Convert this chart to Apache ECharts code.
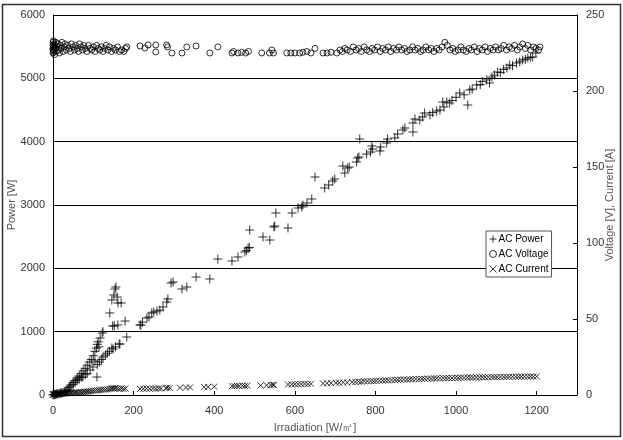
<!DOCTYPE html>
<html>
<head>
<meta charset="utf-8">
<script src="https://cdn.jsdelivr.net/npm/echarts@6/dist/echarts.min.js"></script>
<style>
  html, body { margin: 0; padding: 0; background: #fff; }
  #chart { width: 623px; height: 440px; }
</style>
</head>
<body>
<div id="chart"></div>
<script>
// [irradiation W/m2, power W]
const acPower = [
  [0, 0], [2, 5], [4, 10], [6, 8], [8, 15], [10, 20], [12, 18], [15, 25], [18, 30], [20, 35],
  [22, 28], [25, 40], [28, 45], [30, 50], [33, 60], [35, 70], [38, 90],
  // steep branch
  [40, 120], [45, 160], [50, 200], [55, 230], [60, 270], [65, 300], [70, 340], [75, 380],
  [80, 420], [85, 470], [90, 520], [95, 560], [100, 620], [104, 690], [108, 740], [110, 800],
  [112, 840], [114, 760], [117, 900], [122, 979], [124, 1000], [141, 1295], [146, 1500],
  [148, 1090], [151, 1579], [152, 1090], [154, 1674], [156, 1705], [159, 1547], [161, 1453],
  [161, 1105], [169, 1453], [179, 1168],
  // main branch
  [42, 140], [50, 170], [55, 200], [60, 237], [65, 250], [70, 280], [74, 284], [80, 320],
  [85, 340], [92, 395], [99, 442], [104, 537], [109, 284], [110, 480], [115, 520], [120, 560],
  [124, 600], [130, 630], [135, 660], [140, 690], [146, 742], [149, 726], [155, 760],
  [164, 805], [166, 805], [183, 916],
  [216, 1105], [218, 1105], [222, 1150], [233, 1216], [238, 1230], [245, 1295], [250, 1310],
  [258, 1326], [265, 1340], [273, 1390], [282, 1468], [285, 1516], [293, 1768], [298, 1784],
  [320, 1674], [332, 1705], [355, 1863], [389, 1832], [409, 2147], [444, 2116], [459, 2179],
  [476, 2258], [480, 2280], [484, 2321], [487, 2330], [488, 2605], [521, 2495], [538, 2447],
  [548, 2653], [550, 2668], [553, 2874], [583, 2637], [593, 2874], [608, 2953], [617, 2969],
  [620, 3000], [630, 3032], [642, 3095], [650, 3442], [674, 3269], [684, 3316], [694, 3379],
  [699, 3411], [719, 3616], [724, 3505], [731, 3584], [735, 3600], [753, 3679], [756, 3742],
  [759, 3758], [761, 4042], [778, 3805], [788, 3837], [791, 3932], [793, 3884], [811, 3853],
  [813, 3916], [828, 3979], [830, 4042], [848, 4058], [855, 4121], [868, 4184], [873, 4216],
  [893, 4153], [893, 4295], [898, 4358], [910, 4342], [917, 4389], [922, 4453], [935, 4421],
  [942, 4460], [952, 4484], [960, 4500], [967, 4626], [970, 4547], [977, 4626], [984, 4611],
  [990, 4650], [1000, 4700], [1009, 4768], [1020, 4740], [1029, 4579], [1034, 4816],
  [1040, 4830], [1051, 4895], [1060, 4900], [1065, 4950], [1076, 4974], [1083, 4926],
  [1089, 5021], [1095, 5050], [1103, 5100], [1110, 5090], [1118, 5140], [1126, 5163],
  [1133, 5211], [1140, 5200], [1150, 5242], [1158, 5260], [1165, 5289], [1172, 5300],
  [1178, 5321], [1185, 5330], [1190, 5337], [1198, 5400]
];

// [irradiation W/m2, voltage V]
const acVoltage = [
  [0, 227], [0, 230], [0, 232], [0, 225], [0, 228], [1, 233], [1, 226], [2, 229], [2, 231],
  [3, 227], [4, 224], [5, 230], [6, 228], [7, 232], [8, 226], [10, 229], [12, 231], [14, 227],
  [16, 225], [18, 230], [20, 228], [22, 232], [25, 226], [28, 229], [30, 231], [33, 227],
  [36, 230], [40, 228], [43, 226], [46, 231], [50, 229], [53, 227], [56, 230], [60, 228],
  [63, 226], [66, 231], [70, 229], [73, 227], [76, 230], [80, 228], [84, 226], [88, 230],
  [92, 228], [96, 227], [100, 229], [104, 226], [108, 230], [112, 228], [116, 227], [120, 229],
  [124, 226], [128, 228], [132, 230], [136, 227], [140, 229], [145, 226], [150, 228],
  [155, 227], [160, 229], [165, 226], [170, 227], [176, 226], [180, 228], [183, 229],
  [216, 229.6], [228, 228.3], [236, 230.3], [255, 230.3], [255, 225.7], [282, 230.3],
  [284, 229], [295, 225], [320, 225], [332, 229], [355, 229.6], [389, 225], [409, 229],
  [444, 225], [448, 226], [459, 225], [468, 225.5], [478, 225], [485, 226], [518, 225],
  [537, 225], [543, 227], [547, 225], [580, 225], [590, 225], [600, 225], [612, 225],
  [620, 225.5], [630, 226], [640, 225], [650, 228], [670, 225], [680, 225], [690, 225.5],
  [704, 225],
  [712, 227], [718, 226], [724, 228], [730, 227], [738, 226], [745, 229], [752, 227],
  [758, 228], [765, 226], [772, 229], [778, 227], [785, 226], [792, 228], [798, 227],
  [805, 229], [812, 226], [818, 228], [825, 227], [832, 229], [838, 226], [845, 228],
  [852, 227], [858, 229], [865, 227], [872, 228], [878, 226], [885, 227], [892, 229],
  [898, 227], [905, 228], [912, 226], [918, 227], [925, 229], [932, 227], [938, 228],
  [945, 226], [952, 228], [958, 227], [965, 229], [972, 232], [978, 230], [985, 227],
  [992, 228], [998, 226], [1005, 227], [1012, 229], [1018, 227], [1025, 226], [1032, 228],
  [1038, 227], [1045, 229], [1052, 226], [1058, 228], [1065, 227], [1072, 229], [1078, 226],
  [1085, 228], [1092, 227], [1098, 229], [1105, 227], [1112, 228], [1118, 230], [1125, 227],
  [1132, 229], [1138, 228], [1145, 230], [1152, 227], [1158, 229], [1165, 231], [1172, 228],
  [1178, 230], [1185, 227], [1192, 229], [1198, 228], [1205, 227], [1208, 229]
];

// [irradiation W/m2, current A]
const acCurrent = [
  [0, 0.2], [1, 0.5], [2, 0.3], [3, 0.6], [5, 0.4], [7, 0.8], [9, 0.5], [11, 0.9], [13, 0.7],
  [15, 1.0], [18, 0.8], [20, 1.1], [23, 0.9], [26, 1.2], [29, 1.0], [32, 1.3], [35, 1.1],
  [38, 1.4], [42, 1.2], [45, 1.5], [48, 1.3], [52, 1.6], [55, 1.5], [58, 1.8], [62, 1.6],
  [66, 1.9], [70, 1.8], [74, 2.0], [78, 2.1], [82, 2.2], [86, 2.3], [90, 2.5], [95, 2.6],
  [100, 2.8], [105, 2.9], [110, 3.1], [115, 3.2], [120, 3.4], [125, 3.5], [130, 3.6],
  [135, 3.8], [140, 4.0], [145, 4.2], [148, 4.5], [152, 4.3], [155, 4.6], [160, 4.4],
  [165, 4.1], [170, 4.3], [175, 4.0], [180, 4.2],
  [216, 4.0], [224, 4.1], [232, 4.2], [240, 4.1], [248, 4.3], [255, 4.2], [262, 4.4],
  [268, 4.3], [280, 4.6], [284, 4.8], [290, 4.7], [315, 4.8], [330, 4.9], [340, 5.0],
  [375, 5.2], [385, 5.3], [400, 5.5], [444, 5.8], [450, 5.9], [456, 6.0], [462, 5.9],
  [470, 6.1], [476, 6.0], [482, 6.2], [515, 6.3], [530, 6.4], [540, 6.5], [545, 6.7],
  [548, 6.6], [583, 6.9], [592, 7.0], [600, 7.1], [608, 7.1], [616, 7.2], [624, 7.3],
  [632, 7.2], [640, 7.4], [670, 7.6], [680, 7.7], [690, 7.8], [702, 8.0], [710, 8.1],
  [720, 8.3], [730, 8.2], [742, 8.5], [750, 8.6], [758, 8.8], [765, 8.7], [772, 9.0],
  [780, 9.1], [788, 9.2], [795, 9.1], [802, 9.3], [810, 9.4], [818, 9.5], [825, 9.6],
  [832, 9.7], [840, 9.8], [848, 9.9], [855, 10.0], [862, 10.1], [870, 10.2], [878, 10.2],
  [885, 10.3], [892, 10.4], [900, 10.5], [908, 10.5], [915, 10.6], [922, 10.7], [930, 10.8],
  [938, 10.8], [945, 10.9], [952, 11.0], [960, 11.0], [968, 11.1], [975, 11.1], [982, 11.2],
  [990, 11.2], [998, 11.3], [1005, 11.3], [1012, 11.4], [1020, 11.4], [1028, 11.5],
  [1035, 11.5], [1042, 11.5], [1050, 11.6], [1058, 11.6], [1065, 11.7], [1072, 11.7],
  [1080, 11.7], [1088, 11.8], [1095, 11.8], [1102, 11.8], [1110, 11.9], [1118, 11.9],
  [1125, 11.9], [1132, 12.0], [1140, 12.0], [1148, 12.0], [1155, 12.0], [1162, 12.1],
  [1170, 12.1], [1178, 12.1], [1185, 12.2], [1192, 12.1], [1200, 12.2]
];

const FONT = "'Liberation Sans Narrow', 'Arial Narrow', 'Liberation Sans', sans-serif";
const PLUS = 'path://M0,5L10,5M5,0L5,10';
const CROSS = 'path://M0,0L10,10M10,0L0,10';

const chart = echarts.init(document.getElementById('chart'), null, { renderer: 'canvas' });

const markerStyle = { color: 'rgba(0,0,0,0)', borderColor: '#000', borderWidth: 1 };
const plain = (v) => String(v); // no thousands separators

chart.setOption({
  animation: false,
  backgroundColor: '#fff',
  textStyle: { fontFamily: FONT },
  grid: { left: 53, right: 46, top: 15, bottom: 45, containLabel: false, outerBoundsMode: 'none' },
  graphic: [{
    type: 'rect',
    shape: { x: 2.5, y: 4.5, width: 618, height: 432 },
    style: { fill: 'none', stroke: '#333', lineWidth: 1.5 },
    silent: true
  }],
  legend: {
    orient: 'vertical',
    left: 486,
    top: 231,
    backgroundColor: '#fff',
    borderColor: '#555',
    borderWidth: 1,
    borderRadius: 0,
    padding: [3, 3, 3, 3],
    itemGap: 5,
    itemWidth: 7,
    itemHeight: 7,
    itemStyle: { color: 'rgba(0,0,0,0)', borderColor: '#000', borderWidth: 1 },
    textStyle: { fontSize: 10, color: '#000', fontFamily: FONT, padding: [0, 0, 0, -3] },
    data: ['AC Power', 'AC Voltage', 'AC Current']
  },
  xAxis: {
    type: 'value',
    min: 0,
    max: 1300,
    interval: 200,
    name: 'Irradiation [W/㎡]',
    nameLocation: 'middle',
    nameMoveOverlap: false,
    nameGap: 27,
    nameTextStyle: { fontSize: 11, color: '#555' },
    axisLine: { lineStyle: { color: '#000', width: 1 } },
    axisTick: { inside: true, length: 4, lineStyle: { color: '#000' } },
    axisLabel: { fontSize: 11, color: '#333', margin: 10, showMaxLabel: false, formatter: plain },
    splitLine: { show: false }
  },
  yAxis: [{
    type: 'value',
    min: 0,
    max: 6000,
    interval: 1000,
    name: 'Power [W]',
    nameLocation: 'middle',
    nameMoveOverlap: false,
    nameRotate: 90,
    nameGap: 36,
    nameTextStyle: { fontSize: 11, color: '#555' },
    axisLine: { show: true, lineStyle: { color: '#000', width: 1 } },
    axisTick: { show: false },
    axisLabel: { fontSize: 11, color: '#333', margin: 8, formatter: plain },
    splitLine: { show: true, lineStyle: { color: '#000', width: 1 } }
  }, {
    type: 'value',
    min: 0,
    max: 250,
    interval: 50,
    position: 'right',
    name: 'Voltage [V], Current [A]',
    nameLocation: 'middle',
    nameMoveOverlap: false,
    nameRotate: 90,
    nameGap: 27,
    nameTextStyle: { fontSize: 11, color: '#555' },
    axisLine: { show: true, lineStyle: { color: '#000', width: 1 } },
    axisTick: { show: true, inside: true, length: 4, lineStyle: { color: '#000' } },
    axisLabel: { fontSize: 11, color: '#333', margin: 9 },
    splitLine: { show: false }
  }],
  series: [{
    name: 'AC Power',
    type: 'scatter',
    yAxisIndex: 0,
    symbol: PLUS,
    symbolSize: 9,
    itemStyle: markerStyle,
    data: acPower
  }, {
    name: 'AC Voltage',
    type: 'scatter',
    yAxisIndex: 1,
    symbol: 'circle',
    symbolSize: 6,
    itemStyle: markerStyle,
    data: acVoltage
  }, {
    name: 'AC Current',
    type: 'scatter',
    yAxisIndex: 1,
    symbol: CROSS,
    symbolSize: 6,
    itemStyle: markerStyle,
    data: acCurrent
  }]
});
</script>
</body>
</html>
